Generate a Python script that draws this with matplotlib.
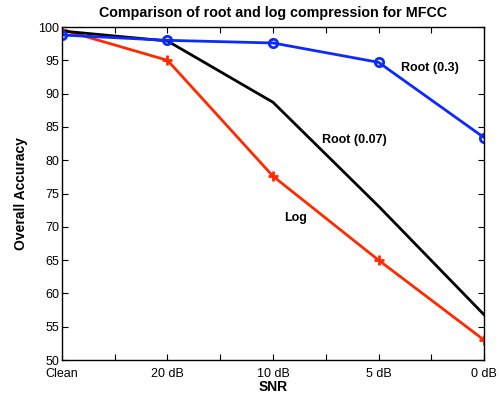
import matplotlib
matplotlib.use("Agg")
import matplotlib.pyplot as plt

plt.rcParams['font.family'] = ['Liberation Sans', 'DejaVu Sans']

snr_labels = ["Clean", "20 dB", "10 dB", "5 dB", "0 dB"]
root_03 = [98.8, 98.0, 97.6, 94.7, 83.4]
root_007 = [99.4, 97.9, 88.7, 73.1, 56.8]
log_comp = [99.6, 95.0, 77.6, 65.0, 53.0]

x = list(range(len(snr_labels)))

fig = plt.figure(figsize=(4.99, 3.96), dpi=100)
ax = fig.add_axes([0.1242, 0.0909, 0.8458, 0.8409])

ax.plot(x, log_comp, color='#ff2a00', lw=2, marker='+', ms=7, mew=2)
ax.plot(x, root_007, color='black', lw=2)
ax.plot(x, root_03, color='#0a2aff', lw=2, marker='o', ms=6, mfc='none', mew=2)

ax.text(3.21, 93.8, "Root (0.3)", fontsize=9, fontweight='bold', va='center')
ax.text(2.46, 83.0, "Root (0.07)", fontsize=9, fontweight='bold', va='center')
ax.text(2.11, 71.3, "Log", fontsize=9, fontweight='bold', va='center')

ax.set_xlim(0, 4)
ax.set_ylim(50, 100)
ax.set_xticks([i * 0.5 for i in range(9)])
ax.set_xticklabels([snr_labels[i // 2] if i % 2 == 0 else "" for i in range(9)])
ax.set_yticks(range(50, 101, 5))
ax.tick_params(direction='in', top=True, right=True, labelsize=9, length=4)
ax.tick_params(axis='x', pad=5.5)
ax.tick_params(axis='y', pad=2)
for s in ax.spines.values():
    s.set_linewidth(1)

ax.set_xlabel("SNR", fontsize=10, fontweight='bold', labelpad=0)
ax.set_ylabel("Overall Accuracy", fontsize=10, fontweight='bold', labelpad=7)
ax.set_title("Comparison of root and log compression for MFCC", fontsize=10.3, fontweight='bold', pad=7)

fig.savefig("out.png", dpi=100)
